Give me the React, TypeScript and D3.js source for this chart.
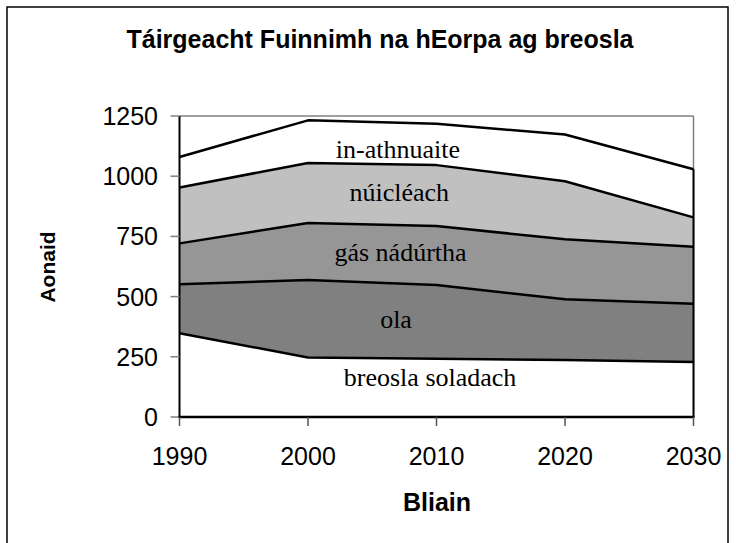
import React from "react";
import * as d3 from "d3";

// years on the x axis
const years = [1990, 2000, 2010, 2020, 2030];
// stacked layers, bottom to top (units)
const soladach = [348, 247, 242, 237, 228];
const ola = [203, 322, 306, 252, 242];
const gas = [170, 237, 245, 249, 237];
const nuicleach = [232, 249, 253, 241, 122];
const athnuaite = [127, 177, 172, 194, 200];

const layerKeys = ["soladach", "ola", "gas", "nuicleach", "athnuaite"];
const layerNames = ["breosla soladach", "ola", "gás nádúrtha", "núicléach", "in-athnuaite"];
const layerFills = ["#ffffff", "#808080", "#969696", "#c0c0c0", "#ffffff"];
// label anchor: year position and value inside the band
const labelYears = [2009.5, 2006.85, 2007.2, 2007.1, 2007.0];
const labelValues = [130, 370, 647, 898, 1075];

const yTicks = [0, 250, 500, 750, 1000, 1250];

const W = 736;
const H = 543;
const sans = "'Liberation Sans', Arial, sans-serif";
const serif = "'Liberation Serif', 'Times New Roman', serif";

const App = () => {
  const x = d3.scaleLinear().domain([1990, 2030]).range([179.5, 693.5]);
  const y = d3.scaleLinear().domain([0, 1250]).range([417, 116]);

  const rows = years.map((yr, i) => ({
    year: yr,
    soladach: soladach[i],
    ola: ola[i],
    gas: gas[i],
    nuicleach: nuicleach[i],
    athnuaite: athnuaite[i],
  }));
  const series = d3.stack().keys(layerKeys)(rows as any);

  const area = d3
    .area<any>()
    .x((d) => x(d.data.year))
    .y0((d) => y(d[0]))
    .y1((d) => y(d[1]));
  const topLine = d3
    .line<any>()
    .x((d) => x(d.data.year))
    .y((d) => y(d[1]));

  const total = series[series.length - 1][years.length - 1][1];

  return (
    <svg
      width={W}
      height={H}
      style={{ position: "absolute", left: 0, top: 0, background: "#fff" }}
    >
      <rect x={7} y={7} width={721} height={545} fill="#fff" stroke="#000" strokeWidth={1.5} />

      <text x={380} y={48} textAnchor="middle" fontFamily={sans} fontWeight="bold" fontSize={25}>
        Táirgeacht Fuinnimh na hEorpa ag breosla
      </text>

      {/* plot frame (top and right) */}
      <line x1={x(1990)} x2={x(2030)} y1={y(1250)} y2={y(1250)} stroke="#808080" strokeWidth={1.5} />
      <line x1={x(2030)} x2={x(2030)} y1={y(1250)} y2={y(0)} stroke="#808080" strokeWidth={1.5} />

      {series.map((s, i) => (
        <path key={"a" + i} d={area(s) || ""} fill={layerFills[i]} stroke="none" />
      ))}
      {series.map((s, i) => (
        <path key={"l" + i} d={topLine(s) || ""} fill="none" stroke="#000" strokeWidth={2.5} strokeLinejoin="round" />
      ))}
      {/* right edge of the stacked areas */}
      <line x1={x(2030)} x2={x(2030)} y1={y(0)} y2={y(total)} stroke="#000" strokeWidth={2} />

      {series.map((s, i) => (
        <text
          key={"t" + i}
          x={x(labelYears[i])}
          y={y(labelValues[i])}
          textAnchor="middle"
          fontFamily={serif}
          fontSize={26}
          fill="#000"
        >
          {layerNames[i]}
        </text>
      ))}

      {/* y axis */}
      <line x1={x(1990)} x2={x(1990)} y1={y(1250)} y2={y(0)} stroke="#000" strokeWidth={2} />
      {yTicks.map((t) => (
        <g key={"yt" + t}>
          <line x1={x(1990) - 9} x2={x(1990)} y1={y(t)} y2={y(t)} stroke="#808080" strokeWidth={1.5} />
          <text x={158} y={y(t) + 9} textAnchor="end" fontFamily={sans} fontSize={25}>
            {t}
          </text>
        </g>
      ))}

      {/* x axis */}
      <line x1={x(1990) - 1} x2={x(2030) + 1} y1={y(0)} y2={y(0)} stroke="#000" strokeWidth={2.5} />
      {years.map((yr) => (
        <g key={"xt" + yr}>
          <line x1={x(yr)} x2={x(yr)} y1={y(0)} y2={y(0) + 9} stroke="#555" strokeWidth={1.5} />
          <text x={x(yr)} y={465} textAnchor="middle" fontFamily={sans} fontSize={25}>
            {yr}
          </text>
        </g>
      ))}

      <text x={437} y={511} textAnchor="middle" fontFamily={sans} fontWeight="bold" fontSize={25}>
        Bliain
      </text>
      <text
        transform="translate(55,267) rotate(-90)"
        textAnchor="middle"
        fontFamily={sans}
        fontWeight="bold"
        fontSize={21}
      >
        Aonaid
      </text>
    </svg>
  );
};

export default App;
